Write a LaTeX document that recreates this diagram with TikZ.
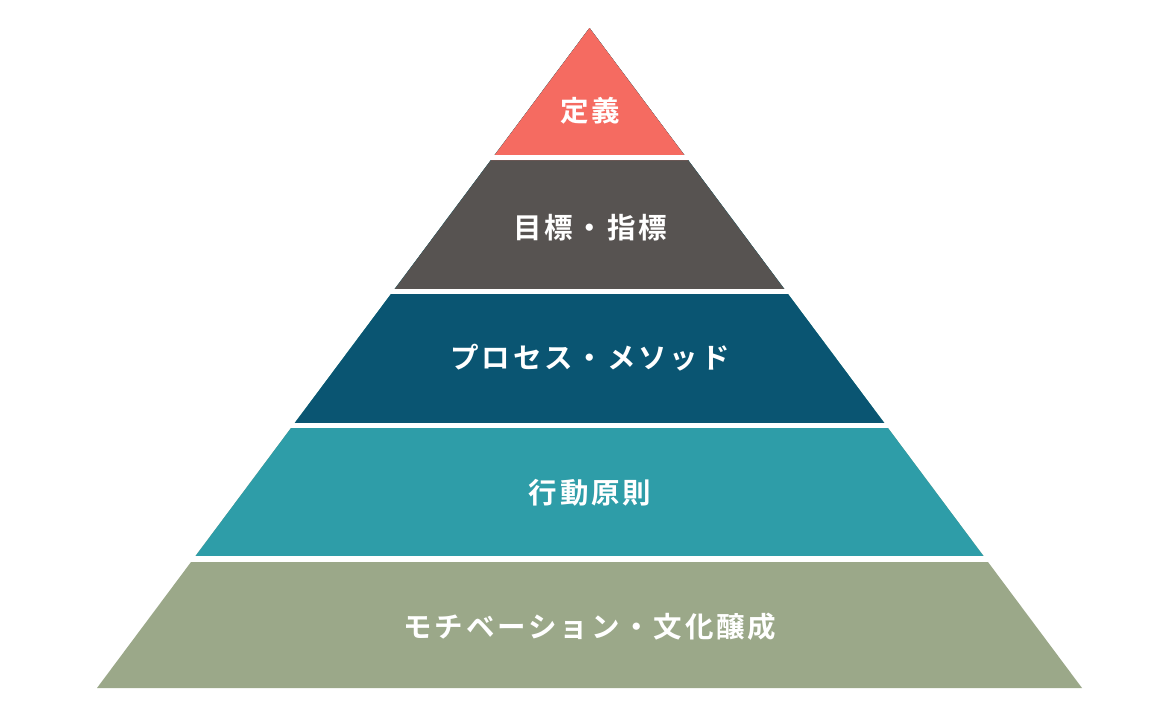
\documentclass[tikz,border=0pt]{standalone}
\usepackage{fontspec}
\usetikzlibrary{calc}
\newfontfamily\jpfont{Noto Sans CJK JP}[BoldFont={* Bold},LetterSpace=10]
\definecolor{cTop}{HTML}{F56B61}
\definecolor{cTwo}{HTML}{575351}
\definecolor{cThree}{HTML}{0A5572}
\definecolor{cFour}{HTML}{2E9DA8}
\definecolor{cFive}{HTML}{9BA889}
\tikzset{
  lbl/.style={text=white,font=\jpfont\bfseries\fontsize{28.5}{32}\selectfont,inner sep=0pt,anchor=center},
  gap/.style={draw=white,line width=5.5pt}
}
\begin{document}
\begin{tikzpicture}[x=1pt,y=-1pt]
\useasboundingbox[fill=white] (0,0) rectangle (1170,721);
% pyramid geometry: apex (589.5,28), base y=688, half-width 492.5
\coordinate (apex) at (589.5,28);
\coordinate (bl) at (97,688);
\coordinate (br) at (1082,688);
\fill[cFive] (apex) -- (bl) -- (br) -- cycle;
\fill[cFour] (apex) -- ($(apex)!0.8!(bl)$) -- ($(apex)!0.8!(br)$) -- cycle;
\fill[cThree] (apex) -- ($(apex)!0.6!(bl)$) -- ($(apex)!0.6!(br)$) -- cycle;
\fill[cTwo] (apex) -- ($(apex)!0.4!(bl)$) -- ($(apex)!0.4!(br)$) -- cycle;
\fill[cTop] (apex) -- ($(apex)!0.2!(bl)$) -- ($(apex)!0.2!(br)$) -- cycle;
\coordinate (g1l) at (0,157.5); \coordinate (g1r) at (1170,157.5);
\coordinate (g2l) at (0,291.5); \coordinate (g2r) at (1170,291.5);
\coordinate (g3l) at (0,425.5); \coordinate (g3r) at (1170,425.5);
\coordinate (g4l) at (0,559); \coordinate (g4r) at (1170,559);
\draw[gap] (g1l) -- (g1r);
\draw[gap] (g2l) -- (g2r);
\draw[gap] (g3l) -- (g3r);
\draw[gap] (g4l) -- (g4r);
\node[lbl] (t1) at (590,111) {定義};
\node[lbl] (t2) at (590,228) {目標・指標};
\node[lbl] (t3) at (590,358) {プロセス・メソッド};
\node[lbl] (t4) at (590,493) {行動原則};
\node[lbl] (t5) at (590,627) {モチベーション・文化醸成};
\end{tikzpicture}
\end{document}
